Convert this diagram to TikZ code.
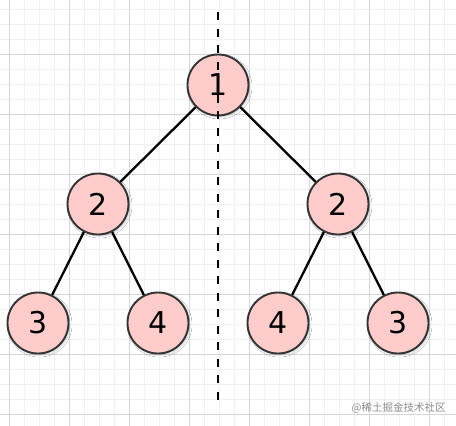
\documentclass[tikz,border=0pt]{standalone}
\usepackage{fontspec}
\setmainfont{DejaVu Sans}
\newfontfamily\cjk{Noto Sans CJK SC}
\usetikzlibrary{shadows.blur}

\definecolor{nodefill}{HTML}{FFCCCC}
\definecolor{nodeline}{HTML}{333333}
\definecolor{gridmajor}{HTML}{D6D6D6}
\definecolor{gridminor}{HTML}{F1F1F1}

\begin{document}
\begin{tikzpicture}[x=1pt, y=-1pt, thick,
    treenode/.style={draw=nodeline, line width=1.9pt, fill=nodefill, circle, minimum size=61pt, inner sep=0pt,
        font=\fontsize{30}{30}\selectfont, blur shadow={shadow xshift=1.5pt, shadow yshift=-1.5pt, shadow opacity=20, shadow blur radius=2pt}},
    treeedge/.style={line width=2.3pt, black}]
    \useasboundingbox (0,0) rectangle (456,426);
    \fill[white] (0,0) rectangle (456,426);
    % grid
    \foreach \gx in {-6,9,...,456} \draw[gridminor, line width=0.8pt] (\gx,0) -- (\gx,426);
    \foreach \gy in {-6,9,...,426} \draw[gridminor, line width=0.8pt] (0,\gy) -- (456,\gy);
    \foreach \gx in {9,69,...,456} \draw[gridmajor, line width=0.8pt] (\gx,0) -- (\gx,426);
    \foreach \gy in {-6,54,...,426} \draw[gridmajor, line width=0.8pt] (0,\gy) -- (456,\gy);

    \node (root) [treenode] at (218,85) {1};
    \node (left) [treenode] at (98,204) {2};
    \node (right) [treenode] at (338,204) {2};
    \node (leftleft) [treenode] at (38,323) {3};
    \node (leftright) [treenode] at (158,323) {4};
    \node (rightleft) [treenode] at (278,323) {4};
    \node (rightright) [treenode] at (398,323) {3};

    \draw[treeedge] (root) -- (left);
    \draw[treeedge] (root) -- (right);
    \draw[treeedge] (left) -- (leftleft);
    \draw[treeedge] (left) -- (leftright);
    \draw[treeedge] (right) -- (rightleft);
    \draw[treeedge] (right) -- (rightright);

    \coordinate (axistop) at (218,12);
    \coordinate (axisbottom) at (218,404);
    \draw[black, line width=2.6pt, dash pattern=on 8pt off 8.5pt] (axistop) -- (axisbottom);

    \node (mark) [anchor=east, text=black!45, font=\cjk\fontsize{10.5}{11}\selectfont, inner sep=0pt] at (446,408) {@稀土掘金技术社区};
\end{tikzpicture}
\end{document}
